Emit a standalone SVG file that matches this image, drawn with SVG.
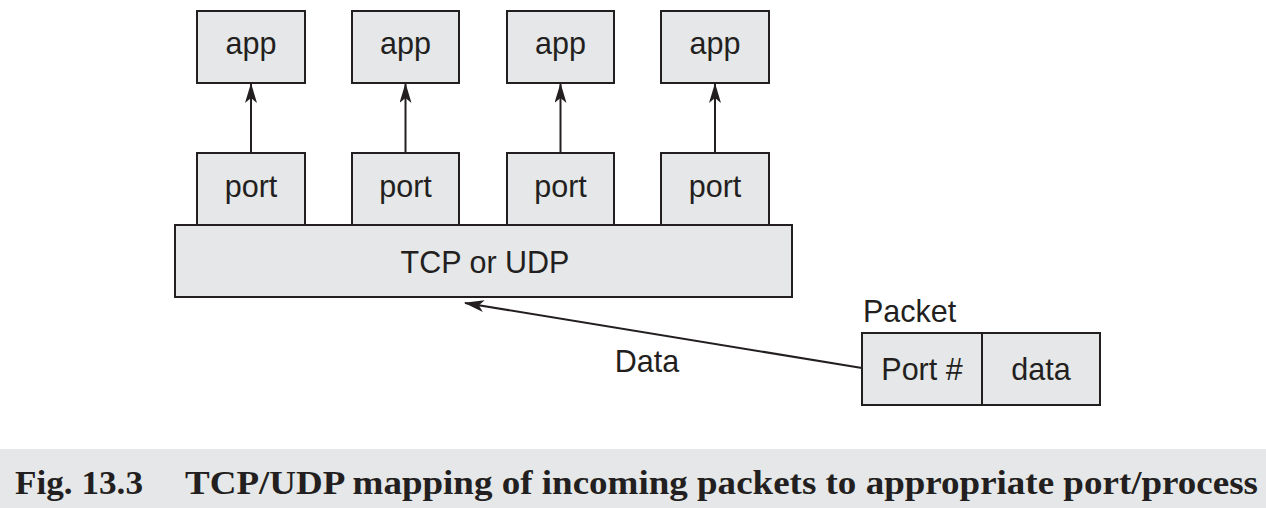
<svg xmlns="http://www.w3.org/2000/svg" width="1266" height="508" viewBox="0 0 1266 508">
<style>
.box{fill:#e6e7e8;stroke:#231f20;stroke-width:2}
.lbl{font-family:"Liberation Sans",Arial,sans-serif;font-size:30.5px;fill:#231f20;text-anchor:middle}
.conn{stroke:#231f20;stroke-width:2;fill:none}
.cap{font-family:"Liberation Serif","Times New Roman",serif;font-weight:bold;font-size:34px;fill:#231f20}
</style>
<defs>
<marker id="ah" viewBox="0 0 20 12" refX="19" refY="6" markerWidth="20" markerHeight="12" markerUnits="userSpaceOnUse" orient="auto">
<path d="M0,0 L20,6 L0,12 L5,6 Z" fill="#231f20"/>
</marker>
</defs>
<rect width="1266" height="508" fill="#ffffff"/>
<g id="app1"><rect class="box" x="197" y="11" width="108" height="72"/><text class="lbl" x="251" y="54">app</text></g>
<g id="app2"><rect class="box" x="352" y="11" width="107" height="72"/><text class="lbl" x="405.5" y="54">app</text></g>
<g id="app3"><rect class="box" x="507" y="11" width="107" height="72"/><text class="lbl" x="560.5" y="54">app</text></g>
<g id="app4"><rect class="box" x="661" y="11" width="108" height="72"/><text class="lbl" x="715" y="54">app</text></g>
<g id="tcp"><rect class="box" x="175" y="225" width="617" height="72"/><text class="lbl" x="485" y="273">TCP or UDP</text></g>
<g id="port1"><rect class="box" x="197" y="153" width="108" height="72"/><text class="lbl" x="251" y="197">port</text></g>
<g id="port2"><rect class="box" x="352" y="153" width="107" height="72"/><text class="lbl" x="405.5" y="197">port</text></g>
<g id="port3"><rect class="box" x="507" y="153" width="107" height="72"/><text class="lbl" x="560.5" y="197">port</text></g>
<g id="port4"><rect class="box" x="661" y="153" width="108" height="72"/><text class="lbl" x="715" y="197">port</text></g>
<g id="packet">
<text class="lbl" x="863" y="322" style="text-anchor:start">Packet</text>
<rect class="box" x="862" y="333" width="120" height="72"/>
<rect class="box" x="982" y="333" width="118" height="72"/>
<text class="lbl" x="922" y="380">Port #</text>
<text class="lbl" x="1041" y="380">data</text>
</g>
<g id="connectors">
<line class="conn" x1="251" y1="153" x2="251" y2="84" marker-end="url(#ah)"/>
<line class="conn" x1="405.5" y1="153" x2="405.5" y2="84" marker-end="url(#ah)"/>
<line class="conn" x1="560.5" y1="153" x2="560.5" y2="84" marker-end="url(#ah)"/>
<line class="conn" x1="715" y1="153" x2="715" y2="84" marker-end="url(#ah)"/>
<line class="conn" x1="862" y1="368" x2="465" y2="303" marker-end="url(#ah)"/>
<text class="lbl" x="647" y="372">Data</text>
</g>
<rect x="0" y="449" width="1266" height="59" fill="#e6e7e8"/>
<text class="cap" x="15" y="494" textLength="128" lengthAdjust="spacingAndGlyphs">Fig. 13.3</text>
<text class="cap" x="185" y="494" textLength="1073" lengthAdjust="spacingAndGlyphs">TCP/UDP mapping of incoming packets to appropriate port/process</text>
</svg>
